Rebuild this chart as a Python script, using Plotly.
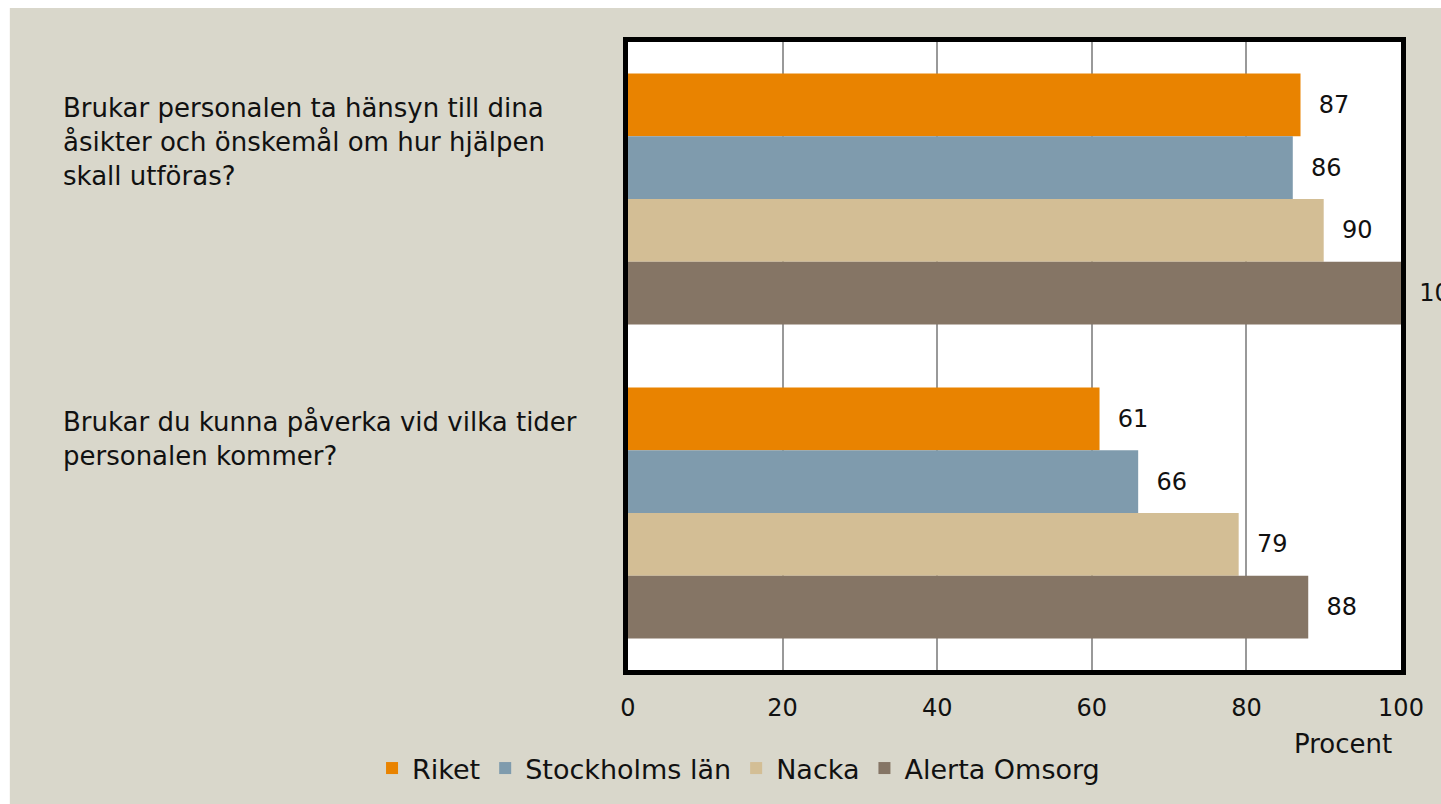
import plotly.graph_objects as go

categories = [
    "Brukar personalen ta hänsyn till dina<br>åsikter och önskemål om hur hjälpen<br>skall utföras?",
    "Brukar du kunna påverka vid vilka tider<br>personalen kommer?",
]
cat_keys = ["Q1", "Q2"]
series_names = ["Riket", "Stockholms län", "Nacka", "Alerta Omsorg"]
riket = [87, 61]
stockholm = [86, 66]
nacka = [90, 79]
alerta = [100, 88]
series_values = [riket, stockholm, nacka, alerta]
colors = ["#E98300", "#7F9BAD", "#D3BE95", "#857565"]
x_ticks = [0, 20, 40, 60, 80, 100]

FONT = "DejaVu Sans"
TXT = "#111111"
BG = "#D9D7CB"

fig = go.Figure()
for name, vals, col in zip(series_names, series_values, colors):
    fig.add_trace(go.Bar(
        y=cat_keys, x=vals, name=name, orientation="h",
        marker=dict(color=col, line=dict(width=0)),
        text=["\u00a0\u00a0" + str(v) for v in vals], textposition="outside",
        textfont=dict(family=FONT, size=24, color=TXT),
        cliponaxis=False,
    ))

annotations = []
for key, label in zip(cat_keys, categories):
    annotations.append(dict(
        x=-0.733, xref="paper", y=key, yref="y", yshift=108,
        xanchor="left", yanchor="top", align="left", showarrow=False,
        text=label, font=dict(family=FONT, size=26, color=TXT),
    ))
annotations.append(dict(
    x=0.925, xref="paper", y=-0.118, yref="paper", xanchor="center", yanchor="middle",
    showarrow=False, text="Procent", font=dict(family=FONT, size=26, color=TXT),
))

shapes = [
    dict(type="rect", xref="paper", yref="paper", x0=-0.85, x1=1.1,
         y0=1.054, y1=1.1, fillcolor="white", line=dict(width=0), layer="below"),
    dict(type="rect", xref="paper", yref="paper", x0=-0.85, x1=-0.7997,
         y0=-0.3, y1=1.1, fillcolor="white", line=dict(width=0), layer="below"),
]

fig.update_layout(
    width=1441, height=804,
    margin=dict(l=628, r=40, t=42, b=133, pad=0),
    paper_bgcolor=BG, plot_bgcolor="white",
    barmode="group", bargap=0.2, bargroupgap=0,
    font=dict(family=FONT, size=24, color=TXT),
    showlegend=True,
    legend=dict(orientation="h", x=0.143, xanchor="center", y=-0.155, yanchor="middle",
                traceorder="normal", font=dict(family=FONT, size=27, color=TXT),
                bgcolor="rgba(0,0,0,0)", itemclick=False),
    annotations=annotations,
    shapes=shapes,
    xaxis=dict(range=[0, 100], tickvals=x_ticks, ticktext=[str(t) for t in x_ticks],
               showgrid=True, gridcolor="#999999", gridwidth=1.5,
               showline=True, linecolor="black", linewidth=5, mirror=True,
               ticks="", ticklabelstandoff=12, zeroline=False,
               tickfont=dict(family=FONT, size=24, color=TXT)),
    yaxis=dict(autorange="reversed", showticklabels=False, showgrid=False,
               showline=True, linecolor="black", linewidth=5, mirror=True,
               ticks="", zeroline=False),
)

fig.write_html("out.html")
